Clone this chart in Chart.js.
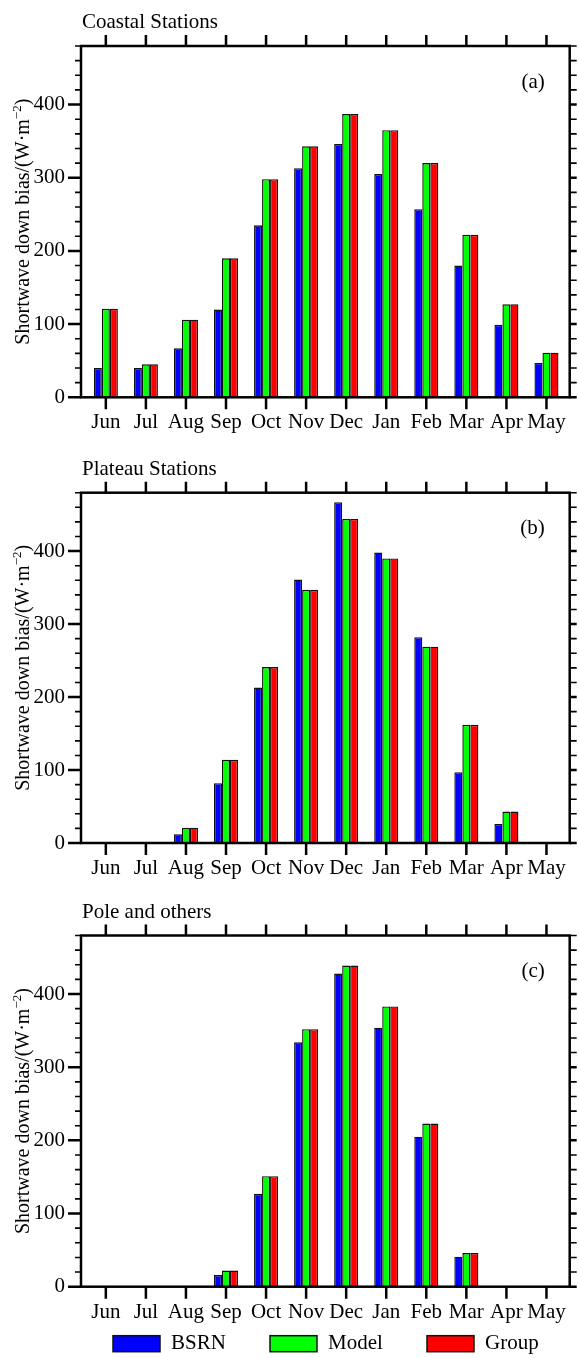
<!DOCTYPE html>
<html>
<head>
<meta charset="utf-8">
<script src="https://cdn.jsdelivr.net/npm/chart.js@4"></script>
<style>
  html, body { margin: 0; padding: 0; background: #fff; }
  #wrap { position: relative; width: 579px; height: 1358px; }
  #wrap canvas { position: absolute; left: 0; }
</style>
</head>
<body>
<div id="wrap">
  <canvas id="coastal" width="579" height="446" style="top:0px"></canvas>
  <canvas id="plateau" width="579" height="444" style="top:446px"></canvas>
  <canvas id="pole" width="579" height="468" style="top:890px"></canvas>
</div>
<script>
// months on the x axis, Jun -> May
const months = ['Jun', 'Jul', 'Aug', 'Sep', 'Oct', 'Nov', 'Dec', 'Jan', 'Feb', 'Mar', 'Apr', 'May'];
const seriesNames = ['BSRN', 'Model', 'Group'];
const yTickValues = [0, 100, 200, 300, 400];

// coastal stations
const coastalBSRN  = [40, 40, 67, 120, 235, 313, 346, 305, 257, 180, 99, 47];
const coastalModel = [121, 45, 106, 190, 298, 343, 387, 365, 320, 222, 127, 61];
const coastalGroup = [121, 45, 106, 190, 298, 343, 387, 365, 320, 222, 127, 61];

// plateau stations
const plateauBSRN  = [0.5, 0.5, 12, 82, 213, 361, 467, 398, 282, 97, 26, 1];
const plateauModel = [0, 0, 21, 114, 241, 347, 444, 390, 269, 162, 43, 0];
const plateauGroup = [0, 0, 21, 114, 241, 347, 444, 390, 269, 162, 43, 0];

// pole and others
const poleBSRN  = [0, 0, 0, 16, 127, 334, 428, 354, 205, 41, 0, 0];
const poleModel = [0, 0, 0, 22, 151, 352, 439, 383, 223, 46, 0, 0];
const poleGroup = [0, 0, 0, 22, 151, 352, 439, 383, 223, 46, 0, 0];

const seriesColors = ['#0000ff', '#00ff00', '#ff0000'];
const FONT = '"Liberation Serif", "Times New Roman", serif';
const FS = 21;

Chart.defaults.font.family = FONT;
Chart.defaults.color = '#000';

// month slots as numbers so the x axis can be linear with extra side room
const slots = months.map((m, i) => i + 1);

// frame, ticks, titles and legend drawn on top of the bars
const framePlugin = {
  id: 'frame',
  afterDatasetsDraw(chart, args, opts) {
    const { ctx, chartArea: a, scales: { x, y } } = chart;
    ctx.save();
    ctx.strokeStyle = '#000';
    ctx.lineCap = 'butt';

    // y ticks, left and right, every 20
    for (let v = 0; v <= 480; v += 20) {
      const py = y.getPixelForValue(v);
      const major = v % 100 === 0;
      ctx.lineWidth = major ? 2.5 : 1.6;
      ctx.beginPath();
      ctx.moveTo(a.left - (major ? 13 : 6), py);
      ctx.lineTo(a.left, py);
      ctx.moveTo(a.right, py);
      ctx.lineTo(a.right + 7, py);
      ctx.stroke();
    }

    // x ticks, top and bottom
    ctx.lineWidth = 2.5;
    slots.forEach(s => {
      const px = x.getPixelForValue(s);
      ctx.beginPath();
      ctx.moveTo(px, a.top - 11);
      ctx.lineTo(px, a.top);
      ctx.moveTo(px, a.bottom);
      ctx.lineTo(px, a.bottom + 12);
      ctx.stroke();
    });

    ctx.lineWidth = 2.5;
    ctx.strokeRect(a.left, a.top, a.right - a.left, a.bottom - a.top);

    ctx.fillStyle = '#000';
    ctx.font = FS + 'px ' + FONT;
    ctx.textBaseline = 'alphabetic';
    ctx.textAlign = 'left';
    ctx.fillText(opts.title, a.left + 1, a.top - 18);

    ctx.textAlign = 'right';
    ctx.textBaseline = 'middle';
    ctx.fillText(opts.tag, a.right - 25, a.top + 36);

    // y axis title with superscript unit
    const part1 = 'Shortwave down bias/(W\u00b7m';
    const sup = '\u22122';
    const part3 = ')';
    ctx.font = '20px ' + FONT;
    const w1 = ctx.measureText(part1).width;
    const w3 = ctx.measureText(part3).width;
    ctx.font = '13px ' + FONT;
    const w2 = ctx.measureText(sup).width;
    const total = w1 + w2 + w3;
    ctx.translate(22, (a.top + a.bottom) / 2);
    ctx.rotate(-Math.PI / 2);
    ctx.textAlign = 'left';
    ctx.textBaseline = 'alphabetic';
    let tx = -total / 2;
    ctx.font = '20px ' + FONT;
    ctx.fillText(part1, tx, 7);
    tx += w1;
    ctx.font = '13px ' + FONT;
    ctx.fillText(sup, tx, -1);
    tx += w2;
    ctx.font = '20px ' + FONT;
    ctx.fillText(part3, tx, 7);
    ctx.restore();

    if (opts.legend) {
      ctx.save();
      const boxX = [113, 270, 427];
      const boxY = a.bottom + 49;
      chart.data.datasets.forEach((ds, i) => {
        ctx.fillStyle = ds.backgroundColor;
        ctx.fillRect(boxX[i], boxY, 47, 16);
        ctx.lineWidth = 1.5;
        ctx.strokeStyle = '#111';
        ctx.strokeRect(boxX[i], boxY, 47, 16);
        ctx.fillStyle = '#000';
        ctx.font = FS + 'px ' + FONT;
        ctx.textAlign = 'left';
        ctx.textBaseline = 'middle';
        ctx.fillText(ds.label, boxX[i] + 47 + 11, boxY + 8);
      });
      ctx.restore();
    }
  }
};

function makeChart(id, title, tag, series, plotTop, plotBottom, legend) {
  const canvas = document.getElementById(id);
  const xHeight = 40;
  return new Chart(canvas, {
    type: 'bar',
    data: {
      labels: slots,
      datasets: series.map((vals, i) => ({
        label: seriesNames[i],
        data: vals,
        backgroundColor: seriesColors[i],
        borderColor: '#111',
        borderWidth: 1.4,
        barPercentage: 1,
        categoryPercentage: 0.6
      }))
    },
    options: {
      responsive: false,
      animation: false,
      layout: {
        padding: { top: plotTop, right: 6, left: 0, bottom: canvas.height - plotBottom - xHeight }
      },
      plugins: {
        legend: { display: false },
        tooltip: { enabled: false },
        frame: { title: title, tag: tag, legend: legend }
      },
      scales: {
        x: {
          type: 'linear',
          min: 0.38,
          max: 12.58,
          offset: false,
          grid: { display: false, drawTicks: false },
          border: { display: false },
          afterBuildTicks: s => { s.ticks = slots.map(v => ({ value: v })); },
          afterFit: s => { s.height = xHeight; },
          ticks: {
            autoSkip: false,
            maxRotation: 0,
            padding: 13,
            font: { size: FS },
            callback: v => months[v - 1]
          }
        },
        y: {
          min: 0,
          max: 480,
          grid: { display: false, drawTicks: false },
          border: { display: false },
          afterBuildTicks: s => { s.ticks = yTickValues.map(v => ({ value: v })); },
          afterFit: s => { s.width = 81; },
          ticks: { padding: 16, font: { size: FS } }
        }
      }
    },
    plugins: [framePlugin]
  });
}

makeChart('coastal', 'Coastal Stations', '(a)', [coastalBSRN, coastalModel, coastalGroup], 46, 397.3, false);
makeChart('plateau', 'Plateau Stations', '(b)', [plateauBSRN, plateauModel, plateauGroup], 46.7, 397, false);
makeChart('pole', 'Pole and others', '(c)', [poleBSRN, poleModel, poleGroup], 45.5, 396.7, true);
</script>
</body>
</html>
